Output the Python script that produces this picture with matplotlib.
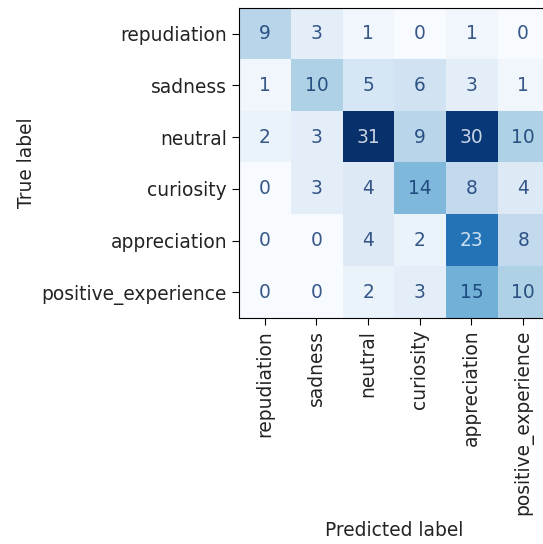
import numpy as np
import matplotlib
matplotlib.use("Agg")
import matplotlib.pyplot as plt

labels = ["repudiation", "sadness", "neutral", "curiosity", "appreciation", "positive_experience"]
cm = np.array([
    [9, 3, 1, 0, 1, 0],
    [1, 10, 5, 6, 3, 1],
    [2, 3, 31, 9, 30, 10],
    [0, 3, 4, 14, 8, 4],
    [0, 0, 4, 2, 23, 8],
    [0, 0, 2, 3, 15, 10],
])

fs = 13.4
fig = plt.figure(figsize=(5.43, 5.44), dpi=100)
ax = fig.add_axes([0.440, 0.4154, 0.571, 0.570])
cmap = plt.cm.Blues
im = ax.imshow(cm, cmap=cmap, interpolation="nearest", aspect="auto")

# light text on dark cells, dark text on light ones
thresh = (cm.max() + cm.min()) / 2.0
for i in range(cm.shape[0]):
    for j in range(cm.shape[1]):
        color = cmap(0.0) if cm[i, j] > thresh else cmap(1.0)
        ax.text(j, i, str(cm[i, j]), ha="center", va="center", color=color,
                fontsize=fs, alpha=0.8)

ax.set_xticks(range(len(labels)))
ax.set_yticks(range(len(labels)))
ax.set_xticklabels(labels, rotation=90, fontsize=fs, color="#222222")
ax.set_yticklabels(labels, fontsize=fs, color="#222222")
ax.tick_params(length=5)
ax.set_xlabel("Predicted label", fontsize=fs, color="#222222")
ax.set_ylabel("True label", fontsize=fs, color="#222222")

fig.savefig("out.png", dpi=100)
